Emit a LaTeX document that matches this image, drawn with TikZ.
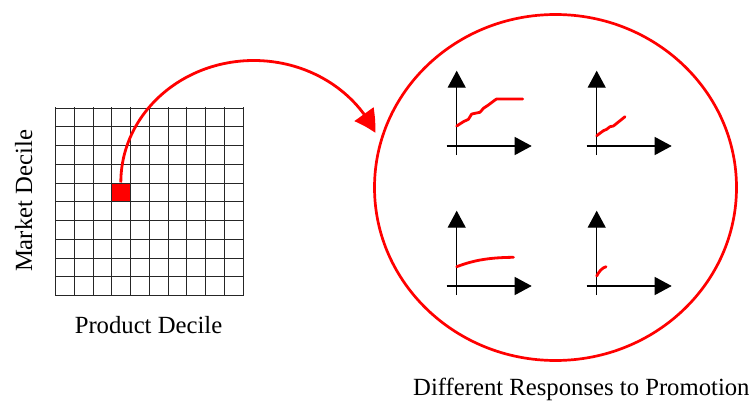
\documentclass[tikz,border=0pt]{standalone}
\usepackage{fontspec}
\setmainfont{Liberation Serif}
\usetikzlibrary{arrows.meta,bending,shapes.geometric}
\begin{document}
\begin{tikzpicture}[x=1pt,y=-1pt,
  gridline/.style={draw=black!85,line width=1.5pt,line cap=rect},
  hot/.style={draw=red,line width=2.8pt,line join=round,line cap=round},
  axis/.style={draw=black,line width=1.3pt,-{Triangle[length=17pt,width=18pt]}},
  captxt/.style={font=\fontsize{24.7}{30}\selectfont,inner sep=0pt}]
\useasboundingbox (0,0) rectangle (752,401);

% highlighted cell of the decile grid
\node[fill=red,minimum size=18.75pt,inner sep=0pt,anchor=north west] (cell) at (111.25,182.5) {};

% 10 x 10 grid, lines placed on whole-pixel centres
\foreach \i in {0,...,10} {
  \pgfmathsetmacro\gx{round(55+18.75*\i)+0.5}
  \pgfmathsetmacro\gy{round(107.5+18.75*\i)+0.5}
  \draw[gridline] (\gx,107.5) -- (\gx,295.5);
  \draw[gridline] (55.5,\gy) -- (242.5,\gy);
}

% zoomed view
\node[ellipse,draw=red,line width=2.7pt,minimum width=362pt,minimum height=346pt,inner sep=0pt] (resp) at (555.5,187.5) {};

% connector from the cell to the zoomed view
\draw[hot,line cap=butt,-{Triangle[length=22pt,width=23pt,bend]}] (cell.north)
  arc[start angle=180,end angle=336,x radius=133,y radius=122];

% small response plots
\foreach \ox/\oy in {456.7/146, 596.7/146, 456.7/286, 596.7/286} {
  \draw[axis] ({\ox},{\oy+9}) -- ({\ox},{\oy-75.3});
  \draw[axis] ({\ox-10},{\oy}) -- ({\ox+75},{\oy});
}
\begin{scope}[shift={(456.7,146)}]
  \draw[hot] (0,-20) -- (6.7,-24.3) -- (11.7,-26.7) -- (15,-32) -- (23.3,-33.7)
    -- (26.7,-37.7) -- (31.7,-41) -- (38.3,-46) -- (40,-47) -- (66,-47);
\end{scope}
\begin{scope}[shift={(596.7,146)}]
  \draw[hot] (0,-10.3) -- (6.7,-15.3) -- (10,-16.7) -- (13.3,-19.3) -- (16.7,-20) -- (28.3,-29.3);
\end{scope}
\begin{scope}[shift={(456.7,286)}]
  \draw[hot] (0,-19.3) .. controls (15,-25) and (30,-28.5) .. (56.7,-28.7);
\end{scope}
\begin{scope}[shift={(596.7,286)}]
  \draw[hot] (0,-10) .. controls (2,-14) and (5,-18) .. (9.3,-19.3);
\end{scope}

% captions
\node[captxt,anchor=base] (xlab) at (148.5,333) {Product Decile};
\node[captxt,rotate=90,anchor=base] (ylab) at (32,201) {Market Decile};
\node[captxt,anchor=base west] (rlab) at (413,395) {Different Responses to Promotion};
\end{tikzpicture}
\end{document}
